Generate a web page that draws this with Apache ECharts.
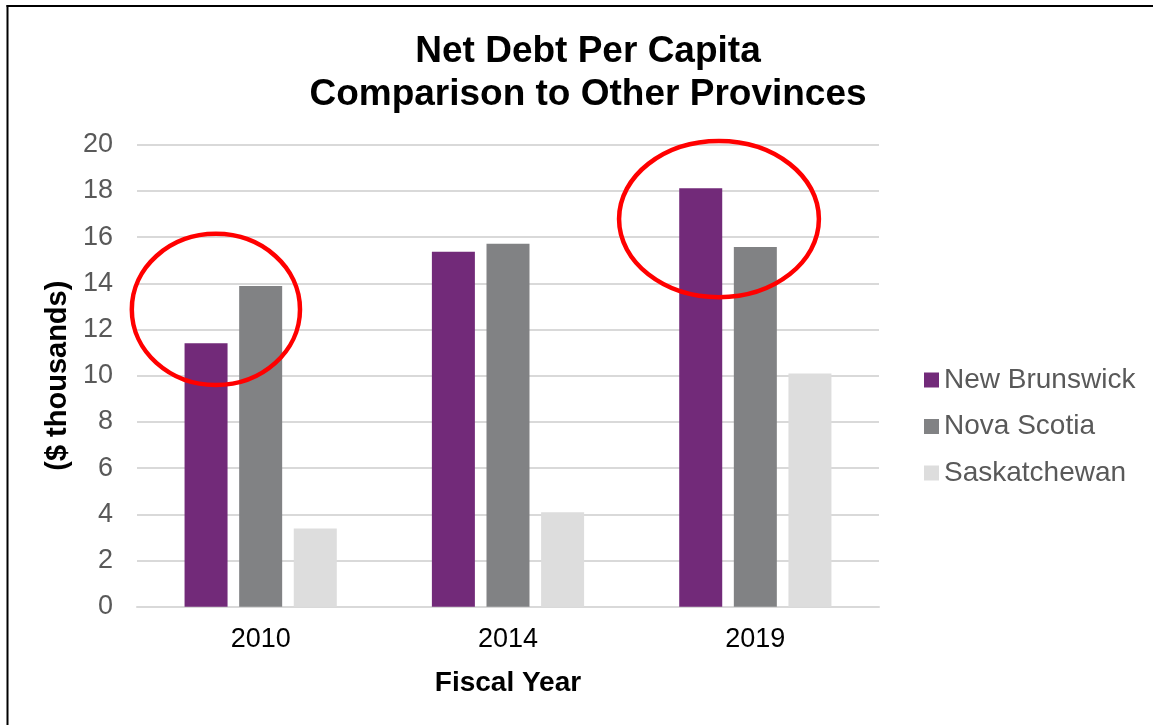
<!DOCTYPE html>
<html>
<head>
<meta charset="utf-8">
<script src="https://cdn.jsdelivr.net/npm/echarts@6/dist/echarts.min.js"></script>
<style>
html,body{margin:0;padding:0;background:#fff;}
#c{width:1153px;height:725px;}
</style>
</head>
<body>
<div id="c"></div>
<script>
const categories = ['2010', '2014', '2019'];
const newBrunswick = [11.4, 15.37, 18.12];
const novaScotia = [13.88, 15.71, 15.57];
const saskatchewan = [3.39, 4.09, 10.1];
const yTicks = [0, 2, 4, 6, 8, 10, 12, 14, 16, 18, 20];
// annotation ellipses: category index, offset (in category widths), center value, radii
const highlights = [
  { cat: 0, off: -0.181, val: 12.87, rxCat: 0.34, ryVal: 3.27 },
  { cat: 2, off: -0.147, val: 16.78, rxCat: 0.404, ryVal: 3.38 }
];

const font = 'Liberation Sans, Arial, sans-serif';
const chart = echarts.init(document.getElementById('c'), null, { renderer: 'canvas' });

const option = {
  backgroundColor: '#fff',
  animation: false,
  title: {
    text: 'Net Debt Per Capita\nComparison to Other Provinces',
    left: 583, top: 25, textAlign: 'center',
    textStyle: { fontFamily: font, fontSize: 37, fontWeight: 'bold', color: '#000', lineHeight: 43 }
  },
  legend: {
    orient: 'vertical',
    left: 919, top: 360,
    itemWidth: 15, itemHeight: 15, itemGap: 16.5,
    icon: 'rect',
    textStyle: { fontFamily: font, fontSize: 28, color: '#595959', lineHeight: 30, padding: [0, 0, 0, 0] },
    data: ['New Brunswick', 'Nova Scotia', 'Saskatchewan']
  },
  grid: { left: 137, top: 144.7, width: 742, height: 462, containLabel: false },
  xAxis: {
    type: 'category',
    data: categories,
    name: 'Fiscal Year',
    nameLocation: 'middle',
    nameGap: 63,
    nameTextStyle: { fontFamily: font, fontSize: 28, fontWeight: 'bold', color: '#000' },
    axisLine: { lineStyle: { color: '#D9D9D9', width: 2 } },
    axisTick: { show: false },
    axisLabel: { fontFamily: font, fontSize: 27, color: '#000', margin: 19 }
  },
  yAxis: {
    type: 'value',
    min: yTicks[0], max: yTicks[yTicks.length - 1], interval: 2,
    name: '($ thousands)',
    nameLocation: 'middle',
    nameGap: 61,
    nameRotate: 90,
    nameTextStyle: { fontFamily: font, fontSize: 29, fontWeight: 'bold', color: '#000' },
    axisLine: { show: false },
    axisTick: { show: false },
    splitLine: { lineStyle: { color: '#D9D9D9', width: 2 } },
    axisLabel: { fontFamily: font, fontSize: 27, color: '#595959', margin: 24 }
  },
  series: [
    { name: 'New Brunswick', type: 'bar', data: newBrunswick, barWidth: 43, barGap: '27%',
      itemStyle: { color: '#722A79' } },
    { name: 'Nova Scotia', type: 'bar', data: novaScotia, barWidth: 43, barGap: '27%',
      itemStyle: { color: '#818284' } },
    { name: 'Saskatchewan', type: 'bar', data: saskatchewan, barWidth: 43, barGap: '27%',
      itemStyle: { color: '#DDDDDD' } }
  ]
};
chart.setOption(option);

function drawAnnotations() {
  const p0 = chart.convertToPixel({ gridIndex: 0 }, [0, 0]);
  const p1 = chart.convertToPixel({ gridIndex: 0 }, [1, 0]);
  const catW = p1[0] - p0[0];
  const unit = chart.convertToPixel({ gridIndex: 0 }, [0, 0])[1] - chart.convertToPixel({ gridIndex: 0 }, [0, 1])[1];
  const els = highlights.map(h => {
    const c = chart.convertToPixel({ gridIndex: 0 }, [h.cat, h.val]);
    return {
      type: 'ellipse',
      shape: { cx: c[0] + h.off * catW, cy: c[1], rx: h.rxCat * catW, ry: h.ryVal * unit },
      style: { fill: null, stroke: '#FF0000', lineWidth: 4.5 },
      z: 100
    };
  });
  els.push({ type: 'line', shape: { x1: 7.5, y1: 5, x2: 7.5, y2: 730 }, style: { stroke: '#000', lineWidth: 2 }, z: 100 });
  els.push({ type: 'line', shape: { x1: 6.5, y1: 6, x2: 1160, y2: 6 }, style: { stroke: '#000', lineWidth: 2 }, z: 100 });
  chart.setOption({ graphic: els });
}
drawAnnotations();
</script>
</body>
</html>
